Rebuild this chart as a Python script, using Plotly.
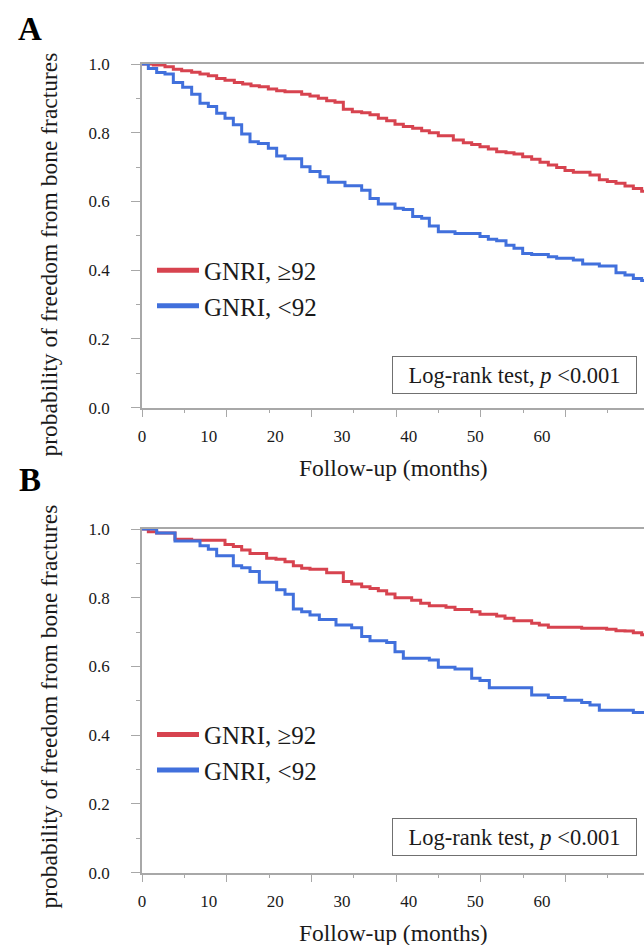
import plotly.graph_objects as go

# ---------------- data (months, survival probability) ----------------
follow_up_end = 75.3

a_high_t = [1.7, 3.45, 4.7, 5.95, 7.45, 8.7, 9.95, 11.2, 12.45, 13.85, 15.1, 16.35, 17.6, 18.95, 20.2,
            21.45, 23.95, 25.2, 26.45, 27.7, 28.95, 30.2, 31.55, 32.95, 34.2, 35.45, 36.7, 37.95, 39.2,
            40.6, 41.95, 43.1, 44.45, 46.7, 48.2, 49.45, 50.7, 51.95, 53.2, 54.6, 55.8, 57.1, 58.45,
            59.7, 60.95, 62.2, 63.45, 64.7, 67.2, 68.6, 69.8, 71.1, 72.45, 73.7, 74.95]
a_high_s = [.997, .992, .985, .980, .976, .971, .966, .958, .953, .946, .942, .937, .934, .927, .922,
            .919, .912, .907, .900, .893, .889, .868, .861, .858, .852, .842, .835, .825, .818,
            .813, .806, .800, .791, .779, .771, .766, .759, .753, .745, .742, .738, .730, .723,
            .714, .706, .699, .690, .685, .677, .663, .658, .653, .645, .638, .630]

a_low_t = [0.95, 2.2, 3.45, 4.7, 6.1, 7.45, 8.7, 9.95, 11.2, 12.45, 13.7, 14.95, 16.2, 17.45, 18.95,
           20.2, 21.45, 23.95, 25.2, 26.7, 27.95, 30.45, 32.95, 34.2, 35.45, 37.95, 39.2, 40.6, 41.95,
           43.1, 44.45, 46.95, 50.7, 51.95, 53.2, 54.6, 55.8, 57.1, 58.45, 60.95, 62.2, 64.7, 66.1,
           68.6, 71.1, 72.45, 73.7, 74.95]
a_low_s = [.987, .975, .971, .946, .932, .912, .886, .876, .857, .842, .823, .796, .774, .769, .755,
           .732, .724, .701, .687, .672, .656, .646, .633, .609, .593, .580, .577, .556, .551,
           .529, .512, .507, .498, .490, .486, .473, .464, .449, .446, .439, .435, .430, .418,
           .412, .393, .386, .376, .370]

b_high_t = [0.95, 2.2, 4.95, 7.45, 12.45, 13.7, 14.95, 16.2, 18.7, 20.1, 21.45, 22.7, 23.95, 25.2,
            27.7, 30.2, 31.45, 32.95, 34.2, 35.45, 36.7, 37.95, 40.45, 41.8, 43.1, 45.6, 46.95, 49.45,
            50.7, 53.2, 54.45, 55.8, 58.45, 59.6, 60.95, 65.95, 69.7, 71.1, 72.45, 73.7, 74.95]
b_high_s = [.992, .988, .970, .967, .955, .949, .939, .929, .915, .912, .905, .893, .886, .883,
            .873, .847, .840, .832, .827, .820, .811, .800, .793, .784, .777, .772, .766, .759,
            .752, .747, .740, .733, .726, .721, .714, .711, .708, .704, .703, .698, .692]

b_low_t = [2.2, 4.95, 8.7, 9.95, 11.2, 13.7, 14.95, 16.2, 17.6, 20.2, 21.45, 22.7, 23.95, 25.2, 26.6,
           29.1, 31.45, 32.95, 34.2, 36.7, 37.95, 39.2, 43.1, 44.45, 46.95, 49.45, 50.7, 52.1, 58.45,
           60.95, 63.45, 65.95, 67.2, 68.6, 73.7]
b_low_s = [.988, .965, .951, .941, .922, .893, .887, .876, .845, .823, .810, .767, .759, .750, .737,
           .721, .713, .687, .675, .670, .643, .624, .619, .598, .593, .566, .559, .538, .517,
           .510, .502, .495, .488, .473, .466]

group_names = ["GNRI, ≥92", "GNRI, <92"]
x_tick_labels = [0, 10, 20, 30, 40, 50, 60]
x_mark_step = 12.7          # long tick marks spacing (months)
x_minor_step = 6.35         # short tick marks spacing (months)
panel_letters = ["A", "B"]
x_title = "Follow-up (months)"
y_title = "probability of freedom from bone fractures"
test_text = "Log-rank test, <i>p</i> &lt;0.001"

# ---------------- styling ----------------
RED = "#D7434F"
BLUE = "#4170DC"
AX = "#A8A8A8"
TXT = "#1a1a1a"
FONT = "Liberation Serif"
W, H = 644, 945


def px_x(p):
    return p / W


def px_y(p):
    return 1 - p / H


def step(t, s):
    return [0] + t + [follow_up_end], [1.0] + s + [s[-1]]


fig = go.Figure()

panels = [
    dict(x="x", y="y", xo="x3", top=64, bot=407.7, leg="legend", off=0,
         data=[(a_high_t, a_high_s), (a_low_t, a_low_s)]),
    dict(x="x2", y="y2", xo="x4", top=529, bot=872.7, leg="legend2", off=465,
         data=[(b_high_t, b_high_s), (b_low_t, b_low_s)]),
]

for p in panels:
    for (t, s), col in zip(p["data"], [RED, BLUE]):
        xs, ys = step(t, s)
        fig.add_trace(go.Scatter(x=xs, y=ys, mode="lines", line=dict(color=col, width=3, shape="hv"),
                                 xaxis=p["x"], yaxis=p["y"], showlegend=False, hoverinfo="skip"))
    for name, col in zip(group_names, [RED, BLUE]):
        fig.add_trace(go.Scatter(x=[None], y=[None], mode="lines", line=dict(color=col, width=5),
                                 name=name, legend=p["leg"], xaxis=p["x"], yaxis=p["y"]))
    # dummy trace so the overlay tick-mark axis is drawn
    fig.add_trace(go.Scatter(x=[None], y=[None], xaxis=p["xo"], yaxis=p["y"], showlegend=False,
                             hoverinfo="skip"))

xdom = [px_x(142), 1.0]
layout_axes = {}
for i, p in enumerate(panels):
    ydom = [px_y(p["bot"]), px_y(p["top"])]
    xkey = "xaxis" if p["x"] == "x" else "xaxis2"
    ykey = "yaxis" if p["y"] == "y" else "yaxis2"
    xokey = "xaxis3" if p["xo"] == "x3" else "xaxis4"
    layout_axes[xkey] = dict(domain=xdom, anchor=p["y"], range=[0, follow_up_end], automargin=False,
                             tickmode="array", tickvals=x_tick_labels,
                             ticktext=[str(v) for v in x_tick_labels],
                             ticks="", ticklabelstandoff=12,
                             showline=True, linecolor=AX, linewidth=1.5, mirror=True,
                             showgrid=False, zeroline=False,
                             tickfont=dict(family=FONT, size=17, color=TXT))
    layout_axes[ykey] = dict(domain=ydom, anchor=p["x"], range=[0, 1], automargin=False,
                             tickmode="linear", tick0=0,
                             dtick=0.2, tickformat=".1f", ticks="outside", ticklen=9, tickwidth=1.3,
                             tickcolor=AX, ticklabelstandoff=18,
                             minor=dict(dtick=0.1, ticks="outside", ticklen=4, tickcolor=AX, tickwidth=1.3),
                             showline=True, linecolor=AX, linewidth=1.5, showgrid=False, zeroline=False,
                             tickfont=dict(family=FONT, size=17, color=TXT))
    layout_axes[xokey] = dict(domain=xdom, anchor=p["y"], overlaying=p["x"], range=[0, follow_up_end],
                              automargin=False,
                              tickmode="linear", tick0=0, dtick=x_mark_step, ticks="outside",
                              ticklen=8, tickwidth=1.3, tickcolor=AX, showticklabels=False,
                              minor=dict(dtick=x_minor_step, tick0=0, ticks="outside", ticklen=4,
                                         tickcolor=AX, tickwidth=1.3),
                              showline=False, showgrid=False, zeroline=False)

annotations = []
letter_y = [29, 480]
ytitle_y = [254.5, 706.5]
for i, p in enumerate(panels):
    off = p["off"]
    common = dict(xref="paper", yref="paper", showarrow=False, xanchor="center", yanchor="middle")
    annotations += [
        dict(text=panel_letters[i], x=px_x(29.5), y=px_y(letter_y[i]),
             font=dict(family=FONT, size=33, color="black", weight="bold"), **common),
        dict(text=x_title, x=px_x(393), y=px_y(468 + off),
             font=dict(family=FONT, size=23.5, color=TXT), **common),
        dict(text=y_title, x=px_x(48), y=px_y(ytitle_y[i]), textangle=-90,
             font=dict(family=FONT, size=23.5, color=TXT), **common),
        dict(text=test_text, x=px_x(514.2), y=px_y(375 + off * 0.993), width=243, height=36,
             borderpad=0, bordercolor="#707070", borderwidth=1, bgcolor="white",
             font=dict(family=FONT, size=22.5, color=TXT), **common),
    ]

legend_common = dict(x=px_x(152), xanchor="left", yanchor="top", bgcolor="rgba(0,0,0,0)",
                     borderwidth=0, itemwidth=42, font=dict(family=FONT, size=25, color=TXT),
                     tracegroupgap=0)

fig.update_layout(
    width=W, height=H, margin=dict(l=0, r=0, t=0, b=0, autoexpand=False),
    paper_bgcolor="white", plot_bgcolor="white",
    showlegend=True,
    legend=dict(y=px_y(247.5), **legend_common),
    legend2=dict(y=px_y(711.7), **legend_common),
    annotations=annotations,
    **layout_axes,
)

fig.write_html("out.html", config={"displayModeBar": False},
               post_script="document.body.style.margin='0px';")
